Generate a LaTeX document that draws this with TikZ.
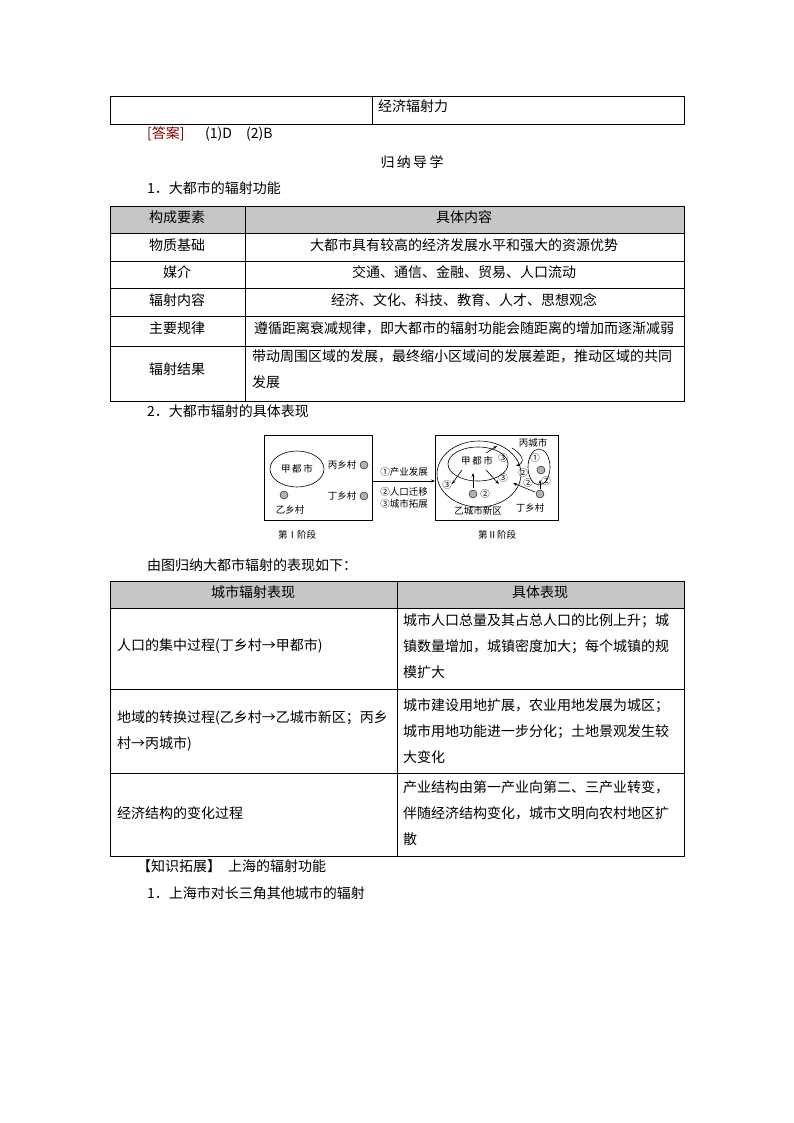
\documentclass[tikz,border=0pt]{standalone}
\usepackage{fontspec}
\newfontfamily\cjk{Noto Sans CJK SC}
\usetikzlibrary{arrows.meta}
\begin{document}
\begin{tikzpicture}[x=1pt,y=-1pt,
  t/.style={font=\cjk\fontsize{14}{26}\selectfont,inner sep=0pt},
  s/.style={font=\cjk\fontsize{9.5}{11}\selectfont,inner sep=0pt},
  ln/.style={line width=0.6pt},
  dot/.style={circle,draw,fill=gray!60,minimum size=8pt,inner sep=0pt},
  ar/.style={-{Stealth[length=4pt]},line width=0.6pt}]
\useasboundingbox (0,0) rectangle (794,1123);
% top table
\draw[ln] (110,96) rectangle (684,124) (372,96)--(372,124);
\node[t,anchor=west] (a0) at (378,106) {经济辐射力};
\node[t,anchor=west,text=red!50!black] (a1) at (147,134) {[答案]};
\node[t,anchor=west] (a2) at (205,134) {(1)D\quad(2)B};
\node[t] (a3) at (412,162) {归\,纳\,导\,学};
\node[t,anchor=west] (a4) at (147,188) {1．大都市的辐射功能};
% table 1
\fill[gray!45] (110,206) rectangle (684,233);
\draw[ln] (110,206) rectangle (684,401);
\foreach \y in {233,261,288,316,346} \draw[ln] (110,\y)--(684,\y);
\draw[ln] (245,206)--(245,401);
\node[t] at (177,217) {构成要素}; \node[t] at (464,217) {具体内容};
\node[t] at (177,245) {物质基础}; \node[t] at (464,245) {大都市具有较高的经济发展水平和强大的资源优势};
\node[t] at (177,272) {媒介}; \node[t] at (464,272) {交通、通信、金融、贸易、人口流动};
\node[t] at (177,300) {辐射内容}; \node[t] at (464,300) {经济、文化、科技、教育、人才、思想观念};
\node[t] at (177,328) {主要规律}; \node[t] at (464,328) {遵循距离衰减规律，即大都市的辐射功能会随距离的增加而逐渐减弱};
\node[t] at (177,369) {辐射结果};
\node[t,anchor=west,align=left] at (252,369) {带动周围区域的发展，最终缩小区域间的发展差距，推动区域的共同\\发展};
\node[t,anchor=west] at (147,411) {2．大都市辐射的具体表现};
% diagram stage I
\draw[ln] (264,435) rectangle (372,520);
\draw[ln] (297,469) ellipse (27 and 18);
\node[s] at (297,469) {甲\,都\,市};
\node[s] at (342,465) {丙乡村}; \node[dot] (d1) at (364,465) {};
\node[s] at (342,496) {丁乡村}; \node[dot] (d2) at (364,496) {};
\node[dot] (d3) at (284,495) {}; \node[s] at (290,510) {乙乡村};
\coordinate (p1) at (372,481); \coordinate (p2) at (435,481);
\draw[ar] (p1)--(p2);
\node[s] at (404,472) {①产业发展};
\node[s] at (404,492) {②人口迁移};
\node[s] at (404,504) {③城市拓展};
\node[s] at (297,535) {第Ⅰ阶段};
\node[s] at (497,535) {第Ⅱ阶段};
% stage II
\draw[ln] (435,435) rectangle (558,520);
\draw[ln] (479,474) ellipse (42 and 33);
\draw[ln] (478,464) ellipse (30 and 17);
\node[s] at (477,461) {甲\,都\,市};
\draw[ln] (539,467) ellipse (11 and 18);
\node[s] at (533,443) {丙城市};
\node[s] at (535,458) {①}; \node[dot] (c1) at (541,470) {};
\node[dot] (c2) at (473,494) {}; \node[s] at (485,494) {②};
\node[dot] (c3) at (540,494) {}; \node[s] at (530,508) {丁乡村};
\node[s] at (478,511) {乙城市新区};
\draw[ar] (486,453)--(497,446); \node[s] at (503,458) {③};
\draw[ar] (462,470)--(452,484); \node[s] at (447,485) {③};
\draw[ar] (473,488)--(473,473);
\draw[ar] (486,470)--(499,484); \node[s] at (503,478) {③};
\draw[ar] (512,448) .. controls (522,454) and (526,462) .. (516,466);
\node[s] at (523,473) {②}; \node[s] at (528,483) {②};
\node[s] at (546,481) {②};
\draw[ar] (535,492)--(513,483);
\draw[ar] (540,489)--(540,480);
\node[t,anchor=west] at (147,565) {由图归纳大都市辐射的表现如下：};
% table 2
\fill[gray!45] (110,581) rectangle (684,608);
\draw[ln] (110,581) rectangle (684,856);
\foreach \y in {608,689,773} \draw[ln] (110,\y)--(684,\y);
\draw[ln] (397,581)--(397,856);
\node[t] at (253,592) {城市辐射表现}; \node[t] at (540,592) {具体表现};
\node[t,anchor=west] at (117,646) {人口的集中过程(丁乡村→甲都市)};
\node[t,anchor=west,align=left] at (403,646) {城市人口总量及其占总人口的比例上升；城\\镇数量增加，城镇密度加大；每个城镇的规\\模扩大};
\node[t,anchor=west,align=left] at (117,731) {地域的转换过程(乙乡村→乙城市新区；丙乡\\村→丙城市)};
\node[t,anchor=west,align=left] at (403,731) {城市建设用地扩展，农业用地发展为城区；\\城市用地功能进一步分化；土地景观发生较\\大变化};
\node[t,anchor=west] at (117,813) {经济结构的变化过程};
\node[t,anchor=west,align=left] at (403,813) {产业结构由第一产业向第二、三产业转变，\\伴随经济结构变化，城市文明向农村地区扩\\散};
\node[t,anchor=west] at (137,866) {【知识拓展】\enspace 上海的辐射功能};
\node[t,anchor=west] at (147,893) {1．上海市对长三角其他城市的辐射};
\end{tikzpicture}
\end{document}
